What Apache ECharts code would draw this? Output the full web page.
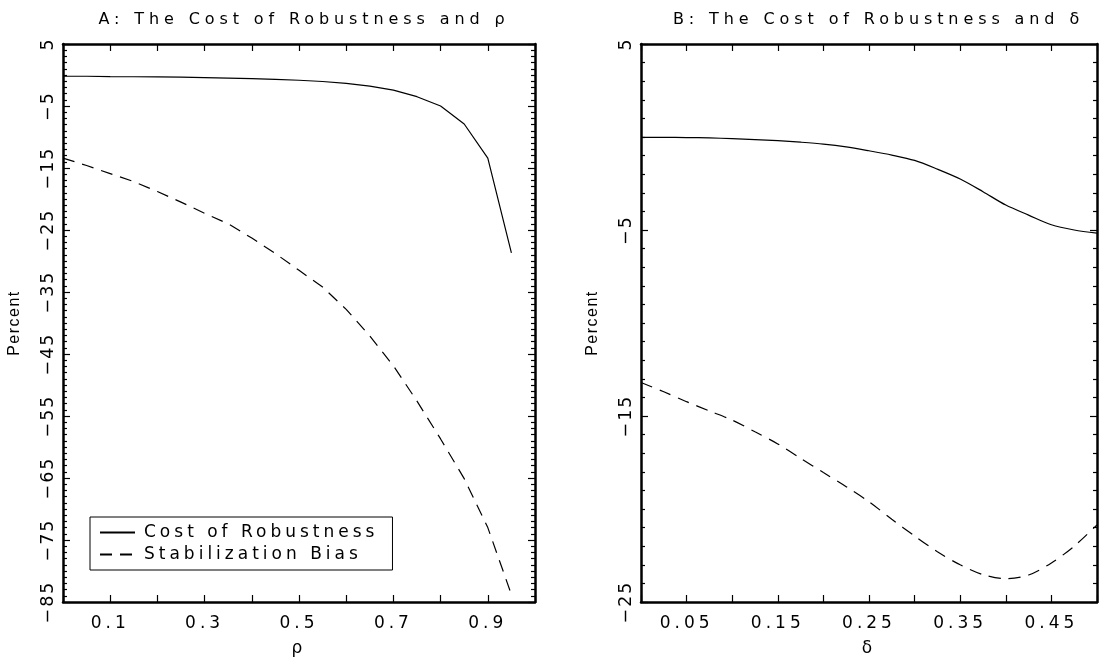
<!DOCTYPE html>
<html>
<head>
<meta charset="utf-8">
<script src="https://cdn.jsdelivr.net/npm/echarts@6/dist/echarts.min.js"></script>
<style>
html, body { margin: 0; padding: 0; background: #fff; }
#chart { width: 1100px; height: 662px; }
</style>
</head>
<body>
<div id="chart"></div>
<script>
// ---- Panel A data (x = rho) ----
const rho = [0, 0.05, 0.1, 0.15, 0.2, 0.25, 0.3, 0.35, 0.4, 0.45, 0.5, 0.55, 0.6, 0.65, 0.7, 0.75, 0.8, 0.85, 0.9, 0.95];
const costRho = [-0.2, -0.2, -0.25, -0.28, -0.3, -0.35, -0.42, -0.5, -0.58, -0.7, -0.85, -1.05, -1.35, -1.8, -2.45, -3.5, -5.0, -7.9, -13.4, -28.7];
const biasRho = [-13.4, -14.6, -15.9, -17.2, -18.8, -20.5, -22.3, -24.0, -26.3, -28.8, -31.5, -34.2, -37.8, -42.1, -46.9, -52.6, -58.7, -65.1, -73.0, -83.8];

// ---- Panel B data (x = delta) ----
const delta = [0, 0.025, 0.05, 0.075, 0.1, 0.125, 0.15, 0.175, 0.2, 0.225, 0.25, 0.275, 0.3, 0.325, 0.35, 0.375, 0.4, 0.425, 0.45, 0.475, 0.5];
const costDelta = [-0.02, -0.02, -0.03, -0.05, -0.09, -0.14, -0.2, -0.28, -0.38, -0.53, -0.74, -0.97, -1.26, -1.73, -2.26, -2.94, -3.66, -4.2, -4.72, -5.0, -5.17];
const biasDelta = [-13.2, -13.7, -14.23, -14.73, -15.22, -15.85, -16.5, -17.28, -18.04, -18.8, -19.61, -20.55, -21.45, -22.3, -23.0, -23.53, -23.75, -23.55, -22.9, -22.0, -20.85];

// ---- Tick labels ----
const xLabelsRho = ['0.1', '0.3', '0.5', '0.7', '0.9'];
const xLabelsDelta = ['0.05', '0.15', '0.25', '0.35', '0.45'];
const yLabelsRho = ['5', '-5', '-15', '-25', '-35', '-45', '-55', '-65', '-75', '-85'];
const yLabelsDelta = ['5', '-5', '-15', '-25'];

const seriesNames = ['Cost of Robustness', 'Stabilization Bias'];
const titles = ['A: The Cost of Robustness and ρ', 'B: The Cost of Robustness and δ'];
const xNames = ['ρ', 'δ'];
const yName = 'Percent';

const FONT = 'DejaVu Sans';

// Wide letter spacing like the original plotting font (canvas letterSpacing).
(function () {
  const P = CanvasRenderingContext2D.prototype;
  const sp = (f) => {
    if (/Liberation/.test(f)) return '1.5px';
    if (/(^|\s)16px/.test(f)) return '4.9px';
    if (/(^|\s)17\.5px/.test(f)) return '2px';
    return '4px';
  };
  ['fillText', 'strokeText'].forEach(function (m) {
    const orig = P[m];
    P[m] = function () {
      try { this.letterSpacing = sp(this.font || ''); } catch (e) {}
      return orig.apply(this, arguments);
    };
  });
})();

const pick = (labels) => (v) => {
  const s = labels.find(l => Math.abs(parseFloat(l) - v) < 1e-6);
  return s ? s.replace('-', '\u2212') : '';
};

const GRIDS = [
  { left: 63, top: 44, width: 472, height: 569 },
  { left: 641, top: 44, width: 465, height: 569 }
];

const lineAxis = () => ({ show: true, onZero: false, lineStyle: { color: '#000', width: 2.5 } });
const tick = () => ({ show: true, inside: true, length: 7, lineStyle: { color: '#000', width: 1.2 } });
const minor = () => ({ show: true, splitNumber: 10, length: 4, lineStyle: { color: '#000', width: 1.2 } });

function xAxes(grid, max, interval, labels, name) {
  return [
    { type: 'value', gridIndex: grid, position: 'bottom', min: 0, max: max, interval: interval,
      axisLine: lineAxis(), axisTick: tick(), splitLine: { show: false },
      axisLabel: { margin: 13, formatter: pick(labels), showMinLabel: true, showMaxLabel: true,
        color: '#000', fontFamily: FONT, fontSize: 17 },
      name: name, nameLocation: 'middle', nameGap: 38,
      nameTextStyle: { color: '#000', fontFamily: FONT, fontSize: 17 } },
    { type: 'value', gridIndex: grid, position: 'top', min: 0, max: max, interval: interval,
      axisLine: lineAxis(), axisTick: tick(), splitLine: { show: false }, axisLabel: { show: false } }
  ];
}
function yAxes(grid, min, labels) {
  return [
    { type: 'value', gridIndex: grid, position: 'left', min: min, max: 5, interval: 10,
      axisLine: lineAxis(), axisTick: tick(), minorTick: minor(), splitLine: { show: false }, minorSplitLine: { show: false },
      axisLabel: { rotate: 90, margin: 6, formatter: pick(labels), showMinLabel: true, showMaxLabel: true,
        color: '#000', fontFamily: FONT, fontSize: 17.5 },
      name: yName, nameLocation: 'middle', nameGap: 40, nameRotate: 90,
      nameTextStyle: { color: '#000', fontFamily: 'Liberation Sans', fontSize: 16 } },
    { type: 'value', gridIndex: grid, position: 'right', min: min, max: 5, interval: 10,
      axisLine: lineAxis(), axisTick: tick(), minorTick: minor(), splitLine: { show: false }, minorSplitLine: { show: false },
      axisLabel: { show: false } }
  ];
}

function mkSeries(name, xs, ys, xi, yi, dashed, smooth) {
  return {
    name: name, type: 'line', xAxisIndex: xi, yAxisIndex: yi,
    data: xs.map((x, i) => [x, ys[i]]),
    symbol: 'none', smooth: smooth ? 0.3 : false, silent: true,
    lineStyle: { color: '#000', width: 1.2, type: dashed ? [12, 8] : 'solid' },
    itemStyle: { color: '#000' }
  };
}

const option = {
  animation: false,
  backgroundColor: '#fff',
  title: [
    { text: titles[0], left: GRIDS[0].left + GRIDS[0].width / 2, top: 7, textAlign: 'center',
      textStyle: { color: '#000', fontFamily: FONT, fontSize: 16, fontWeight: 'normal' } },
    { text: titles[1], left: GRIDS[1].left + GRIDS[1].width / 2, top: 7, textAlign: 'center',
      textStyle: { color: '#000', fontFamily: FONT, fontSize: 16, fontWeight: 'normal' } }
  ],
  legend: {
    data: seriesNames, orient: 'vertical', left: 90, top: 517,
    padding: [7, 86, 7, 9], itemGap: 5, itemWidth: 35, itemHeight: 14,
    borderColor: '#000', borderWidth: 1, selectedMode: false,
    itemStyle: { opacity: 0 },
    formatter: (name) => '{a|' + name + '}',
    textStyle: { color: '#000', fontFamily: FONT, fontSize: 17,
      rich: { a: { padding: [0, 0, 0, 4], color: '#000', fontFamily: FONT, fontSize: 17 } } }
  },
  grid: GRIDS.map(g => Object.assign({ containLabel: false }, g)),
  xAxis: [].concat(xAxes(0, 1, 0.1, xLabelsRho, xNames[0]), xAxes(1, 0.5, 0.05, xLabelsDelta, xNames[1])),
  yAxis: [].concat(yAxes(0, -85, yLabelsRho), yAxes(1, -25, yLabelsDelta)),
  series: [
    mkSeries(seriesNames[0], rho, costRho, 0, 0, false, false),
    mkSeries(seriesNames[1], rho, biasRho, 0, 0, true, false),
    mkSeries(seriesNames[0], delta, costDelta, 2, 2, false, true),
    mkSeries(seriesNames[1], delta, biasDelta, 2, 2, true, true)
  ]
};

const chart = echarts.init(document.getElementById('chart'), null, { renderer: 'canvas', width: 1100, height: 662 });
chart.setOption(option);
</script>
</body>
</html>
